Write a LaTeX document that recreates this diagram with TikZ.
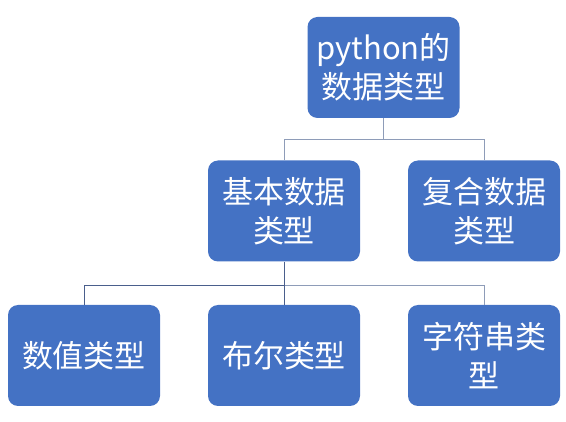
\documentclass[tikz,border=0pt]{standalone}
\usepackage{fontspec}
\setmainfont{Noto Sans CJK SC}
\definecolor{boxblue}{HTML}{4472C4}
\definecolor{conndark}{HTML}{4A5F8C}
\definecolor{connlight}{HTML}{8E9CB8}
\tikzset{
  box/.style={fill=boxblue, rounded corners=10pt, minimum width=152pt, minimum height=101pt,
    text=white, font=\fontsize{31}{39}\selectfont, align=center, inner sep=0pt},
  conn/.style={draw=#1, line width=0.9pt}
}
\begin{document}
\begin{tikzpicture}[x=1pt,y=-1pt]
\useasboundingbox (0,0) rectangle (566,422);
\node[box] (top) at (383.5,67.5) {python的\\数据类型};
\node[box] (b1) at (284,211) {基本数据\\类型};
\node[box] (b2) at (484,211) {复合数据\\类型};
\node[box] (c1) at (84,355.5) {数值类型};
\node[box] (c2) at (284,355.5) {布尔类型};
\node[box] (c3) at (484,355.5) {字符串类\\型};
\coordinate (j1) at (383.5,139);
\coordinate (j2) at (284,285);
\draw[conn=connlight] (top.south) -- (j1) -| (b2.north);
\draw[conn=connlight] (j1) -| (b1.north);
\draw[conn=connlight] (j2) -| (c3.north);
\draw[conn=conndark] (b1.south) -- (j2) -| (c1.north);
\draw[conn=conndark] (j2) -- (c2.north);
\end{tikzpicture}
\end{document}
